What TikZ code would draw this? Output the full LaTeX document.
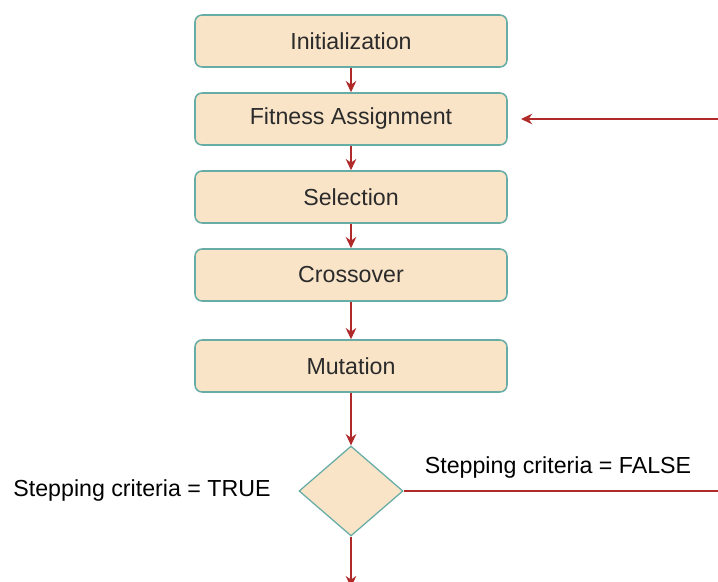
\documentclass[tikz,border=0pt]{standalone}
\usepackage{fontspec}
\setmainfont{Liberation Sans}
\usetikzlibrary{shapes.geometric,arrows.meta}
\definecolor{boxfill}{HTML}{FAE4C8}
\definecolor{boxline}{HTML}{67ADA6}
\definecolor{flowred}{HTML}{B02A2A}
\definecolor{boxtext}{HTML}{2B2B2B}
\tikzset{
  stage/.style = {draw = boxline, fill = boxfill, line width = 1.1pt, rounded corners = 5pt,
                  minimum width = 7.8cm, minimum height = 1.3cm, text = boxtext,
                  font = \fontsize{16.5}{20}\selectfont},
  check/.style = {draw = boxline, fill = boxfill, line width = 0.9pt, diamond, inner sep = 0pt,
                  minimum width = 2.6cm, minimum height = 2.25cm},
  flow/.style  = {draw = flowred, line width = 1pt, -{Stealth[length = 8pt, width = 7.5pt]}},
  note/.style  = {font = \fontsize{16.5}{20}\selectfont}
}
\begin{document}
\begin{tikzpicture}[align = center]
                    \clip (0, 0) rectangle (17.95, -14.55);

                    \node[stage] (init) at (8.775, - 1.025) {Initialization};
                    \node[stage] (fit)  at (8.775, - 2.975) {Fitness Assignment};
                    \node[stage] (sel)  at (8.775, - 4.925) {Selection};
                    \node[stage] (cross) at (8.775, - 6.875) {Crossover};
                    \node[stage] (mut)  at (8.775, - 9.15) {Mutation};
                    \node[check] (stop) at (8.775, -12.275) {};

                    \node[note] (true)  at ( 3.55, -12.25) {Stepping criteria = TRUE};
                    \node[note] (false) at (13.95, -11.675) {Stepping criteria = FALSE};

                    \coordinate (back) at (18.0, - 2.975);
                    \coordinate (loop) at (18.0, -12.275);
                    \coordinate (done) at (8.775, -14.68);

                    \draw[flow] (init) -- (fit);
                    \draw[flow] (fit) -- (sel);
                    \draw[flow] (sel) -- (cross);
                    \draw[flow] (cross) -- (mut);
                    \draw[flow] (mut) -- (stop);

                    \draw[flow] (back) -- ([xshift = 0.33cm] fit.east);
                    \draw[flow, -] (stop.east) -- (loop);
                    \draw[flow] (stop) -- (done);
                \end{tikzpicture}
\end{document}
